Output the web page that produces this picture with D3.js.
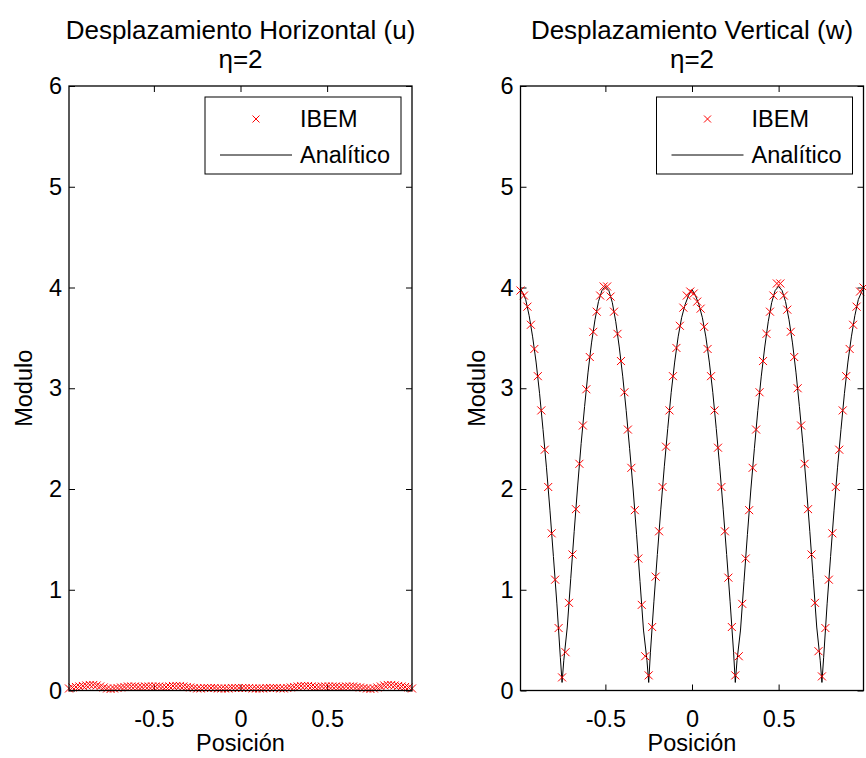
<!DOCTYPE html>
<html><head><meta charset="utf-8">
<script src="https://cdn.jsdelivr.net/npm/d3@7"></script>
<style>body{margin:0;background:#fff}svg{display:block}text{font-family:"Liberation Sans",Arial,Helvetica,sans-serif;fill:#000}</style>
</head><body><svg id="c" width="866" height="758"></svg>
<script>
// ---- data ----
const xIBEM = [-0.99,-0.97,-0.95,-0.93,-0.91,-0.89,-0.87,-0.85,-0.83,-0.81,-0.79,-0.77,-0.75,-0.73,-0.71,-0.69,-0.67,-0.65,-0.63,-0.61,-0.59,-0.57,-0.55,-0.53,-0.51,-0.49,-0.47,-0.45,-0.43,-0.41,-0.39,-0.37,-0.35,-0.33,-0.31,-0.29,-0.27,-0.25,-0.23,-0.21,-0.19,-0.17,-0.15,-0.13,-0.11,-0.09,-0.07,-0.05,-0.03,-0.01,0.01,0.03,0.05,0.07,0.09,0.11,0.13,0.15,0.17,0.19,0.21,0.23,0.25,0.27,0.29,0.31,0.33,0.35,0.37,0.39,0.41,0.43,0.45,0.47,0.49,0.51,0.53,0.55,0.57,0.59,0.61,0.63,0.65,0.67,0.69,0.71,0.73,0.75,0.77,0.79,0.81,0.83,0.85,0.87,0.89,0.91,0.93,0.95,0.97,0.99];
const uIBEM = [0.02,0.03,0.035,0.04,0.045,0.05,0.055,0.055,0.05,0.04,0.03,0.02,0.015,0.02,0.025,0.03,0.035,0.04,0.04,0.04,0.035,0.035,0.04,0.04,0.04,0.04,0.04,0.035,0.035,0.04,0.045,0.045,0.045,0.04,0.035,0.03,0.025,0.02,0.02,0.025,0.025,0.025,0.025,0.02,0.02,0.02,0.02,0.025,0.025,0.025,0.025,0.025,0.025,0.02,0.02,0.02,0.02,0.025,0.025,0.025,0.025,0.02,0.02,0.025,0.03,0.035,0.04,0.045,0.045,0.045,0.04,0.035,0.035,0.04,0.04,0.04,0.04,0.04,0.035,0.035,0.04,0.04,0.04,0.035,0.03,0.025,0.02,0.015,0.02,0.03,0.04,0.05,0.055,0.055,0.05,0.045,0.04,0.035,0.03,0.02];
const wIBEM = [3.97,3.92,3.81,3.63,3.39,3.12,2.78,2.39,2.02,1.56,1.10,0.62,0.13,0.38,0.87,1.35,1.80,2.25,2.63,2.99,3.31,3.56,3.76,3.92,4.01,4.01,3.91,3.76,3.54,3.27,2.96,2.59,2.21,1.79,1.31,0.85,0.34,0.15,0.63,1.13,1.58,2.02,2.42,2.78,3.12,3.40,3.62,3.80,3.92,3.96,3.94,3.86,3.79,3.61,3.39,3.12,2.78,2.41,2.02,1.58,1.12,0.63,0.15,0.34,0.86,1.31,1.79,2.21,2.59,2.96,3.27,3.54,3.76,3.92,4.04,4.04,3.92,3.78,3.56,3.31,3.00,2.63,2.25,1.80,1.35,0.87,0.39,0.14,0.62,1.10,1.56,2.02,2.39,2.78,3.12,3.39,3.63,3.81,3.96,4.00];
const xLine = [-0.99,-0.98,-0.96,-0.94,-0.92,-0.90,-0.88,-0.86,-0.84,-0.82,-0.80,-0.78,-0.76,-0.75,-0.74,-0.72,-0.70,-0.68,-0.66,-0.64,-0.62,-0.60,-0.58,-0.56,-0.54,-0.52,-0.50,-0.48,-0.46,-0.44,-0.42,-0.40,-0.38,-0.36,-0.34,-0.32,-0.30,-0.28,-0.26,-0.25,-0.24,-0.22,-0.20,-0.18,-0.16,-0.14,-0.12,-0.10,-0.08,-0.06,-0.04,-0.02,0.00,0.02,0.04,0.06,0.08,0.10,0.12,0.14,0.16,0.18,0.20,0.22,0.24,0.25,0.26,0.28,0.30,0.32,0.34,0.36,0.38,0.40,0.42,0.44,0.46,0.48,0.50,0.52,0.54,0.56,0.58,0.60,0.62,0.64,0.66,0.68,0.70,0.72,0.74,0.75,0.76,0.78,0.80,0.82,0.84,0.86,0.88,0.90,0.92,0.94,0.96,0.98,0.99];
const wLine = [3.98,3.96,3.88,3.72,3.51,3.26,2.95,2.59,2.21,1.79,1.33,0.86,0.33,0.08,0.30,0.63,1.11,1.58,2.03,2.45,2.82,3.16,3.45,3.68,3.86,3.97,4.01,3.97,3.85,3.66,3.41,3.12,2.78,2.40,2.00,1.55,1.08,0.60,0.30,0.08,0.38,0.88,1.35,1.80,2.22,2.60,2.96,3.26,3.51,3.70,3.83,3.92,3.98,3.92,3.83,3.70,3.51,3.26,2.96,2.60,2.22,1.80,1.35,0.88,0.38,0.08,0.30,0.60,1.08,1.55,2.00,2.40,2.78,3.12,3.41,3.66,3.85,3.97,4.01,3.97,3.86,3.68,3.45,3.16,2.82,2.45,2.03,1.58,1.11,0.63,0.30,0.08,0.33,0.86,1.33,1.79,2.21,2.59,2.95,3.26,3.51,3.72,3.88,3.96,3.98];
const xLineU = [-0.99, 0.99];
const uLine = [0, 0];
const xTicks = [-0.5, 0, 0.5];
const xTickLabels = ["-0.5", "0", "0.5"];
const yTicks = [0, 1, 2, 3, 4, 5, 6];
const titles = ["Desplazamiento Horizontal (u)", "Desplazamiento Vertical (w)"];
const subtitle = "\u03b7=2";
const legendLabels = ["IBEM", "Anal\u00edtico"];
const xLabel = "Posici\u00f3n";
const yLabel = "Modulo";

// ---- layout ----
const svg = d3.select("#c");
svg.append("rect").attr("width",866).attr("height",758).attr("fill","#fff");
const panels = [
  {left:69, right:412, mx:xIBEM, my:uIBEM, lx:xLineU, ly:uLine, title:titles[0], ylabX:32},
  {left:520.5, right:863.5, mx:xIBEM, my:wIBEM, lx:xLine, ly:wLine, title:titles[1], ylabX:485}
];
const plotTop = 86, plotBottom = 690.5, fs = 23.5, tfs = 26;

panels.forEach(p => {
  const x = d3.scaleLinear().domain([-0.99, 0.99]).range([p.left, p.right]);
  const y = d3.scaleLinear().domain([0, 6]).range([plotBottom, plotTop]);
  const g = svg.append("g");
  const clipId = "clip" + Math.round(p.left);
  g.append("clipPath").attr("id", clipId).append("rect")
    .attr("x", p.left - 5).attr("y", plotTop).attr("width", p.right - p.left + 10).attr("height", plotBottom - plotTop + 6);

  const ax = d3.axisBottom(x).tickValues(xTicks).tickFormat((d,i)=>xTickLabels[i]).tickSizeInner(-6).tickSizeOuter(0).tickPadding(20);
  const axT = d3.axisTop(x).tickValues(xTicks).tickFormat("").tickSizeInner(-6).tickSizeOuter(0);
  const ay = d3.axisLeft(y).tickValues(yTicks).tickFormat(d3.format("d")).tickSizeInner(-6).tickSizeOuter(0).tickPadding(7);
  const ayR = d3.axisRight(y).tickValues(yTicks).tickFormat("").tickSizeInner(-6).tickSizeOuter(0);
  [[ax,`translate(0,${plotBottom})`],[axT,`translate(0,${plotTop})`],[ay,`translate(${p.left},0)`],[ayR,`translate(${p.right},0)`]].forEach(([a,t])=>{
    const gg = g.append("g").attr("transform", t).call(a);
    gg.select(".domain").remove();
    gg.selectAll("line").attr("stroke","#000").attr("stroke-width",1);
    gg.selectAll("text").attr("font-size", fs).attr("font-family",'"Liberation Sans",Arial,sans-serif').attr("fill","#000");
  });

  const line = d3.line().x((d,i)=>x(p.lx[i])).y(d=>y(d));
  g.append("path").attr("d", line(p.ly)).attr("fill","none").attr("stroke","#000").attr("stroke-width",1).attr("clip-path",`url(#${clipId})`);

  const s = 4;
  g.append("g").attr("clip-path",`url(#${clipId})`).selectAll("path.m").data(p.my).join("path")
    .attr("d",(d,i)=>{const cx=x(p.mx[i]), cy=y(d); return `M${cx-s},${cy-s}L${cx+s},${cy+s}M${cx-s},${cy+s}L${cx+s},${cy-s}`;})
    .attr("stroke","#ff0000").attr("stroke-width",1).attr("fill","none");

  g.append("rect").attr("x",p.left).attr("y",plotTop).attr("width",p.right-p.left).attr("height",plotBottom-plotTop)
    .attr("fill","none").attr("stroke","#000").attr("stroke-width",1.3);

  const cx = (p.left + p.right)/2;
  g.append("text").attr("x",cx).attr("y",39).attr("text-anchor","middle").attr("font-size",tfs).text(p.title);
  g.append("text").attr("x",cx).attr("y",68).attr("text-anchor","middle").attr("font-size",tfs).text(subtitle);
  g.append("text").attr("x",cx).attr("y",751).attr("text-anchor","middle").attr("font-size",fs).text(xLabel);
  g.append("text").attr("transform",`translate(${p.ylabX},${(plotTop+plotBottom)/2}) rotate(-90)`).attr("text-anchor","middle").attr("font-size",fs).text(yLabel);

  const lx0 = p.right - 207, ly0 = 97;
  g.append("rect").attr("x",lx0).attr("y",ly0).attr("width",196).attr("height",77).attr("fill","#fff").attr("stroke","#000").attr("stroke-width",1);
  const mx = lx0 + 51, my = ly0 + 22;
  g.append("path").attr("d",`M${mx-3.5},${my-3.5}L${mx+3.5},${my+3.5}M${mx-3.5},${my+3.5}L${mx+3.5},${my-3.5}`).attr("stroke","#ff0000").attr("stroke-width",1);
  g.append("line").attr("x1",lx0+15).attr("x2",lx0+87).attr("y1",ly0+58).attr("y2",ly0+58).attr("stroke","#000").attr("stroke-width",1);
  g.append("text").attr("x",lx0+95).attr("y",ly0+30).attr("font-size",fs).text(legendLabels[0]);
  g.append("text").attr("x",lx0+95).attr("y",ly0+66).attr("font-size",fs).text(legendLabels[1]);
});
</script></body></html>
